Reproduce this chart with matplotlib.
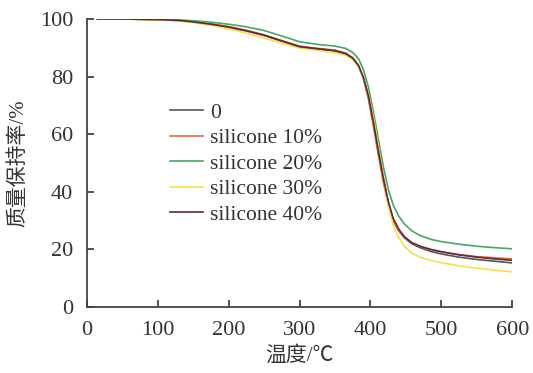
import numpy as np
import matplotlib
matplotlib.use("Agg")
import matplotlib.pyplot as plt

plt.rcParams['font.family'] = ['Liberation Serif', 'Noto Sans CJK SC']

# temperature (C)
temp = [15, 50, 100, 130, 150, 175, 200, 225, 250, 275, 300, 325, 350, 365, 375,
        383, 390, 397, 404, 411, 418, 425, 432, 440, 448, 458, 470, 485, 500,
        525, 550, 575, 600]

# mass retention (%)
s0 = [100, 100, 99.8, 99.5, 99, 98.2, 97.2, 95.9, 94.3, 92.3, 90.4, 89.6, 88.9, 87.9, 86.3,
      83.8, 79.5, 73, 64, 54, 44.5, 36.5, 30.5, 26.5, 24, 22, 20.6, 19.3, 18.4,
      17.3, 16.5, 15.9, 15.3]
s10 = [100, 100, 99.8, 99.5, 99.1, 98.3, 97.4, 96.1, 94.5, 92.5, 90.6, 89.8, 89.2, 88.2, 86.6,
       84, 79.5, 72.5, 63, 53, 43.5, 35.8, 30, 26.3, 24.2, 22.3, 21, 19.9, 19.1,
       18.2, 17.5, 17.1, 16.7]
s20 = [100, 100, 99.9, 99.7, 99.4, 98.9, 98.2, 97.3, 96, 94.1, 92.1, 91.2, 90.6, 89.8, 88.4,
       86.3, 82.5, 76.5, 68, 58.5, 49, 41, 35.5, 31.5, 28.8, 26.5, 24.8, 23.5, 22.7,
       21.8, 21.1, 20.6, 20.2]
s30 = [100, 100, 99.7, 99.3, 98.7, 97.8, 96.6, 95.1, 93.4, 91.6, 89.9, 89.1, 88.3, 87.4, 85.9,
       83.5, 79.5, 74, 66, 56, 45.5, 35.5, 28.5, 24, 21, 18.8, 17.3, 16.2, 15.4,
       14.3, 13.5, 12.8, 12.2]
s40 = [100, 100, 99.8, 99.5, 99, 98.2, 97.2, 95.9, 94.4, 92.4, 90.4, 89.7, 89, 88, 86.4,
       83.9, 79.8, 73.5, 64.5, 54.5, 45, 36.8, 30.8, 27, 24.4, 22.4, 21.1, 20, 19.2,
       18.1, 17.3, 16.7, 16.2]

labels = ['0', 'silicone 10%', 'silicone 20%', 'silicone 30%', 'silicone 40%']
colors = ['#555555', '#e8663c', '#45a865', '#f7e04c', '#5c2b3c']

fig = plt.figure(figsize=(5.33, 3.73), dpi=100)
ax = fig.add_axes([0.163, 0.177, 0.798, 0.772])

for ys, lab, c in zip([s0, s10, s20, s30, s40], labels, colors):
    ax.plot(temp, ys, color=c, lw=1.2, label=lab)

ax.set_xlim(0, 600)
ax.set_ylim(0, 100)
ax.set_xticks([0, 100, 200, 300, 400, 500, 600])
ax.set_yticks([0, 20, 40, 60, 80, 100])
ax.tick_params(direction='in', length=5, width=1.2, labelsize=16, colors='#333333')
ax.tick_params(axis='x', pad=10)
ax.tick_params(axis='y', pad=10)
ax.spines['top'].set_visible(False)
ax.spines['right'].set_visible(False)
for s in ['left', 'bottom']:
    ax.spines[s].set_linewidth(1.3)
    ax.spines[s].set_color('#444444')

ax.set_xlabel('温度/℃', fontsize=15, color='#333333', labelpad=4)
ax.set_ylabel('质量保持率/%', fontsize=15, color='#333333', labelpad=8)

ax.legend(loc='upper left', bbox_to_anchor=(0.176, 0.739), frameon=False,
          fontsize=15.5, handlelength=1.5, handletextpad=0.35, labelspacing=0.25,
          labelcolor='#333333', borderaxespad=0)

fig.savefig('out.png', dpi=100)
